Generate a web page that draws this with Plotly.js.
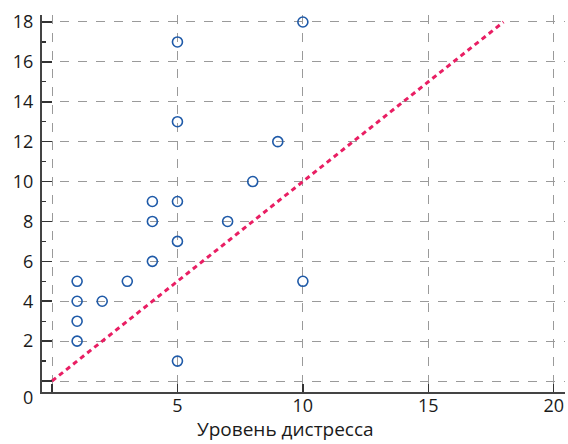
<!DOCTYPE html>
<html>
<head>
<meta charset="utf-8">
<script src="https://cdn.plot.ly/plotly-3.0.1.min.js"></script>
<style>html,body{margin:0;padding:0;background:#fff;}#chart{width:568px;height:444px;}</style>
</head>
<body>
<div id="chart"></div>
<script>
const distressX = [1, 1, 1, 1, 2, 3, 4, 4, 4, 5, 5, 5, 5, 5, 7, 8, 9, 10, 10];
const valuesY   = [5, 4, 3, 2, 4, 5, 6, 8, 9, 17, 13, 9, 7, 1, 8, 10, 12, 18, 5];
const refLineX = [0, 18];
const refLineY = [0, 18];
const xTickVals = [0, 5, 10, 15, 20];
const xTickText = ['', '5', '10', '15', '20'];
const yTickVals = [0, 2, 4, 6, 8, 10, 12, 14, 16, 18];
const yTickText = ['', '2', '4', '6', '8', '10', '12', '14', '16', '18'];
const yMinorVals = [1, 3, 5, 7, 9, 11, 13, 15, 17];
const xTitle = 'Уровень дистресса';

const fontFam = 'Open Sans, Noto Sans, sans-serif';
const txtColor = '#1a1a1a';

const traces = [
  {
    x: refLineX, y: refLineY, type: 'scatter', mode: 'lines',
    line: {color: '#e91e63', width: 3, dash: '5px,4px'},
    hoverinfo: 'skip', showlegend: false
  },
  {
    x: distressX, y: valuesY, type: 'scatter', mode: 'markers',
    marker: {symbol: 'circle-open', size: 10, color: '#1f5aa8', line: {width: 1.6, color: '#1f5aa8'}},
    showlegend: false
  }
];

const layout = {
  width: 568, height: 444,
  margin: {l: 42, r: 3, t: 15, b: 52},
  paper_bgcolor: '#fff', plot_bgcolor: '#fff',
  font: {family: fontFam, color: txtColor, size: 18},
  xaxis: {
    range: [-0.4, 20.45],
    tickmode: 'array', tickvals: xTickVals, ticktext: xTickText,
    ticks: 'inside', ticklen: 8, tickwidth: 1.5, tickcolor: '#333',
    ticklabelstandoff: -4,
    showgrid: true, gridcolor: '#9a9a9a', griddash: 'dash', gridwidth: 1,
    zeroline: false,
    showline: true, linecolor: '#444', linewidth: 2,
    tickfont: {size: 18, family: fontFam, color: txtColor}
  },
  yaxis: {
    range: [-0.55, 18.35],
    tickmode: 'array', tickvals: yTickVals, ticktext: yTickText,
    ticks: 'inside', ticklen: 10, tickwidth: 1.5, tickcolor: '#333',
    ticklabelstandoff: 3,
    minor: {tickvals: yMinorVals, ticks: 'inside', ticklen: 4, tickwidth: 1.2, tickcolor: '#333', showgrid: false},
    showgrid: true, gridcolor: '#9a9a9a', griddash: 'dash', gridwidth: 1,
    zeroline: false,
    showline: true, linecolor: '#444', linewidth: 2,
    tickfont: {size: 18, family: fontFam, color: txtColor}
  },
  annotations: [
    {xref: 'paper', yref: 'paper', x: 0, y: 0, xanchor: 'right', yanchor: 'top',
     xshift: -7, yshift: 9, text: '0', showarrow: false,
     font: {size: 18, family: fontFam, color: txtColor}},
    {xref: 'paper', yref: 'paper', x: 0.465, y: 0, xanchor: 'center', yanchor: 'bottom',
     yshift: -52, text: xTitle, showarrow: false,
     font: {size: 19, family: fontFam, color: txtColor}}
  ]
};

Plotly.newPlot('chart', traces, layout, {displayModeBar: false, staticPlot: true});
</script>
</body>
</html>
